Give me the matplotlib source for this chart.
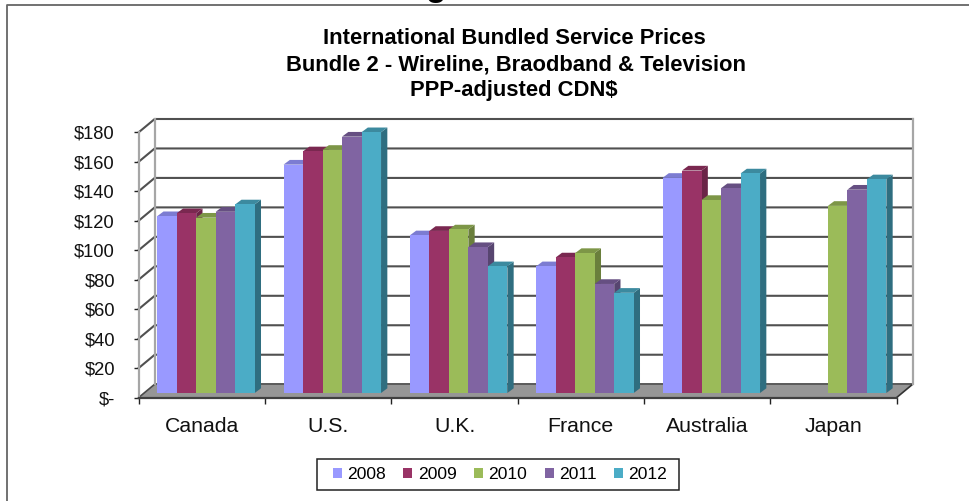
import numpy as np
import matplotlib
matplotlib.use('Agg')
from matplotlib import pyplot as plt
from matplotlib.lines import Line2D
from matplotlib.patches import Polygon, Rectangle

plt.rcParams['font.family'] = ['Liberation Sans', 'DejaVu Sans']

countries = ['Canada', 'U.S.', 'U.K.', 'France', 'Australia', 'Japan']
years = ['2008', '2009', '2010', '2011', '2012']
v2008 = [120, 155, 107, 86, 146, np.nan]
v2009 = [122, 164, 110, 92, 151, np.nan]
v2010 = [119, 165, 111, 95, 131, 127]
v2011 = [123, 174, 99, 74, 139, 138]
v2012 = [128, 177, 86, 68, 149, 145]
series = [v2008, v2009, v2010, v2011, v2012]
yticks = [0, 20, 40, 60, 80, 100, 120, 140, 160, 180]
ylabels = ['$-', '$20', '$40', '$60', '$80', '$100', '$120', '$140', '$160', '$180']

front = ['#9999FF', '#993366', '#9BBB59', '#8064A2', '#4BACC6']
tops = ['#7C7CD2', '#7A2850', '#7D9647', '#664F82', '#3C8A9F']
sides = ['#6B6BB3', '#6B2447', '#6A7F3C', '#574570', '#2F6E80']

W, H = 969, 501
fig = plt.figure(figsize=(W / 100, H / 100), dpi=100)
L, R, T, B = 138.7, 896.7, 132.3, 397.5
ax = fig.add_axes([L / W, 1 - B / H, (R - L) / W, (B - T) / H])
ax.set_xlim(0, 6)
ax.set_ylim(0, 180)
ax.patch.set_visible(False)

# depth of the fake 3D, in data units
wall_dx, wall_dy = 16 / 126.33, 13.3 / 1.473
bar_dx, bar_dy = 6.3 / 126.33, 4.7 / 1.473
bar_w = 19.5 / 126.33
bar_start = 18.5 / 126.33
floor = 4.5 / 1.473

# floor and walls
ax.add_patch(Polygon([(0, 0), (6, 0), (6 + wall_dx, wall_dy), (wall_dx, wall_dy)],
                     closed=True, fc='#969696', ec='none', zorder=1, clip_on=False))
for v in yticks[1:]:
    ax.plot([0, wall_dx, 6 + wall_dx], [v, v + wall_dy, v + wall_dy], color='#505050',
            lw=1.5, zorder=1.5, clip_on=False, solid_joinstyle='miter')
ax.plot([wall_dx, 6 + wall_dx], [wall_dy, wall_dy], color='#5a5a5a', lw=1.4, zorder=1.5, clip_on=False)
for x0 in [wall_dx, 6 + wall_dx]:
    ax.plot([x0, x0], [wall_dy, 180 + wall_dy], color='#a6a6a6', lw=1.6, zorder=1.6, clip_on=False)
ax.plot([0, wall_dx], [0, wall_dy], color='#4a4a4a', lw=1.2, zorder=1.5, clip_on=False)
ax.plot([6, 6 + wall_dx], [0, wall_dy], color='#333333', lw=1.2, zorder=1.5, clip_on=False)

# bars, left to right so each one covers the side of the one before
for j, vals in enumerate(series):
    z = 3 + j
    xs = np.arange(len(countries)) + bar_start + j * bar_w
    for x, v in zip(xs, vals):
        if np.isnan(v):
            continue
        y1 = v + floor
        ax.add_patch(Polygon([(x + bar_w, floor), (x + bar_w + bar_dx, floor + bar_dy),
                              (x + bar_w + bar_dx, y1 + bar_dy), (x + bar_w, y1)],
                             closed=True, fc=sides[j], ec='none', zorder=z, clip_on=False))
        ax.add_patch(Polygon([(x, y1), (x + bar_dx, y1 + bar_dy),
                              (x + bar_w + bar_dx, y1 + bar_dy), (x + bar_w, y1)],
                             closed=True, fc=tops[j], ec='none', zorder=z, clip_on=False))
    ax.bar(xs, vals, width=bar_w, bottom=floor, align='edge', color=front[j], label=years[j],
           zorder=z + 0.5, clip_on=False)

for s in ['top', 'right']:
    ax.spines[s].set_visible(False)
ax.spines['left'].set_color('#a6a6a6')
ax.spines['left'].set_linewidth(1.6)
ax.spines['bottom'].set_color('#404040')
ax.spines['bottom'].set_linewidth(1.6)

ax.set_yticks(yticks)
ax.set_yticklabels(ylabels)
ax.tick_params(axis='y', length=3.6, width=1, color='#222222', pad=13.5, labelsize=13.2, labelcolor='#111111')
ax.set_xticks(range(7))
ax.set_xticklabels([])
ax.set_xticks(np.arange(6) + 0.5, countries, minor=True)
ax.tick_params(axis='x', which='major', length=4.5, width=1, color='#222222')
ax.tick_params(axis='x', which='minor', length=0, pad=14, labelsize=15.3, labelcolor='#111111')

fig.text(514.5 / W, 1 - 44 / H, 'International Bundled Service Prices', ha='center', va='baseline',
         fontsize=15.8, fontweight='bold')
fig.text(516 / W, 1 - 70 / H, 'Bundle 2 - Wireline, Braodband & Television', ha='center', va='baseline',
         fontsize=15.8, fontweight='bold')
fig.text(514 / W, 1 - 96 / H, 'PPP-adjusted CDN$', ha='center', va='baseline',
         fontsize=15.8, fontweight='bold')
# bottom of a heading cut off by the top of the picture
fig.text(436 / W, 1 + 4.5 / H, 'g', ha='center', va='baseline', fontsize=24, fontweight='bold')

# legend box drawn apart, its padding differs across and down
fig.add_artist(Rectangle((317 / W, 1 - 490 / H), 362 / W, 31.3 / H, transform=fig.transFigure,
                         fc='white', ec='#222222', lw=1.1))
leg = fig.legend(loc='center', bbox_to_anchor=(500 / W, 1 - 474.5 / H), ncol=5, fontsize=12.6,
                 frameon=False, handlelength=0.52, handleheight=0.52, handletextpad=0.3,
                 columnspacing=1.0, borderpad=0, borderaxespad=0)

# outer chart border, only top and left fall inside the crop
fig.add_artist(Line2D([7 / W, 7 / W, 1], [0, 1 - 5 / H, 1 - 5 / H], color='#666666', lw=1.3))

fig.savefig('out.png', dpi=100)
